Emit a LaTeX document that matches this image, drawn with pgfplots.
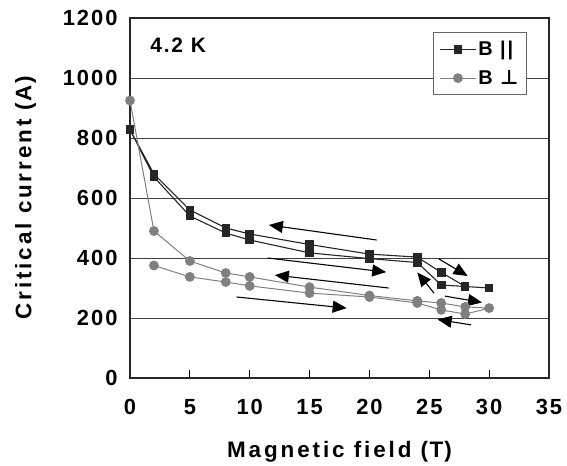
\documentclass[border=0pt]{standalone}
\usepackage{fontspec}
\setmainfont{Liberation Sans}[LetterSpace=9]
\newfontfamily\widefont{Liberation Sans}[LetterSpace=13]
\newfontfamily\sym{DejaVu Sans}
\usepackage{pgfplots}
\pgfplotsset{compat=1.18}
\usetikzlibrary{arrows.meta}

\begin{document}
\begin{tikzpicture}
\begin{axis}[
    scale only axis,
    width=419bp, height=360bp,
    xmin=0, xmax=35, ymin=0, ymax=1200,
    xtick={0,5,...,35},
    ytick={0,200,...,1200},
    /pgf/number format/assume math mode=true,
    /pgf/number format/1000 sep={},
    ticklabel style={font=\fontsize{22}{24}\selectfont\bfseries},
    xtick pos=bottom, xtick align=inside,
    major tick length=8bp,
    ytick style={draw=none},
    xtick style={black, line width=0.8bp},
    yticklabel style={xshift=-9bp},
    xticklabel style={yshift=-18bp},
    ymajorgrids=true,
    grid style={black!75, line width=0.7bp},
    axis line style={black!85, line width=1.6bp},
    xlabel={Magnetic field~(\kern1.5bp T\kern1bp)},
    ylabel={Critical current~(\kern1.5bp A\kern1bp)},
    label style={font=\widefont\fontsize{22.5}{24}\selectfont\bfseries},
    xlabel style={yshift=-19bp},
    ylabel style={yshift=20bp},
    legend style={at={(rel axis cs:0.947,0.961)}, anchor=north east,
        draw=black!60, line width=0.8bp, fill=white,
        font=\fontsize{20}{22}\selectfont\bfseries,
        row sep=9bp, inner xsep=6bp, inner ysep=7bp},
    legend cell align=left,
    legend image code/.code={
        \draw[#1] (0bp,0bp) -- (18bp,0bp) plot coordinates {(18bp,0bp)} -- (36bp,0bp);
    },
    clip=false,
]

% B parallel
\addplot[color=black!85, line width=1.1bp, mark=square*, mark size=3.7bp,
    mark options={solid, fill=black!85}]
    coordinates {
    (0,828) (2,680) (5,560) (8,500) (10,480) (15,445) (20,413) (24,403)
    (26,352) (28,305) (30,300) (28,305) (26,310) (24,385) (20,398)
    (15,417) (10,460) (8,483) (5,540) (2,670) (0,828)
    };
\addlegendentry{B ||}

% B perpendicular
\addplot[color=black!50, line width=1bp, mark=*, mark size=4.4bp,
    mark options={solid, fill=black!50, draw=black!50}]
    coordinates {
    (0,925) (2,490) (5,390) (8,350) (10,337) (15,303) (20,275) (24,257)
    (26,250) (28,237) (30,233) (28,213) (26,227) (24,250) (20,270)
    (15,283) (10,307) (8,320) (5,337) (2,375)
    };
\addlegendentry{B {\sym\bfseries ⊥}}

\node[anchor=west, font=\fontsize{21}{22}\selectfont\bfseries] at (axis cs:1.4,1110) {4.2 K};

% sweep direction arrows
\begin{scope}[line width=1.1bp, black, -{Triangle[length=14bp, width=12bp]}]
\draw (axis cs:20.6,460) -- (axis cs:11.6,510);
\draw (axis cs:11.5,400) -- (axis cs:21.4,353);
\draw (axis cs:21.6,300) -- (axis cs:12.1,343);
\draw (axis cs:8.9,270) -- (axis cs:18.1,233);
\draw (axis cs:25.8,397) -- (axis cs:28.2,340);
\draw (axis cs:25.4,283) -- (axis cs:24.0,352);
\draw (axis cs:26.3,273) -- (axis cs:29.4,252);
\draw (axis cs:28.5,177) -- (axis cs:25.7,195);
\end{scope}
\end{axis}
\pgfresetboundingbox
\path[use as bounding box] (-130bp,-88bp) rectangle (437bp,378bp);
\end{tikzpicture}
\end{document}
